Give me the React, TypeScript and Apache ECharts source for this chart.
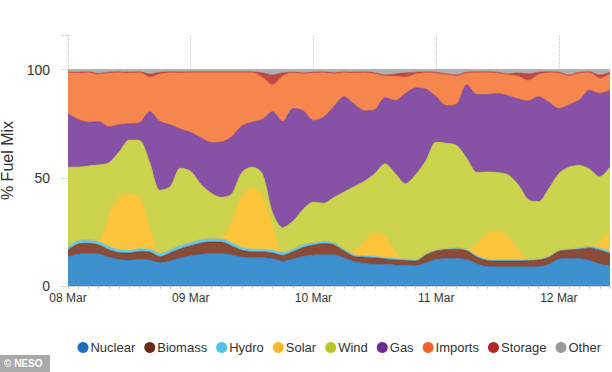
import React, { useEffect, useRef } from "react";
import * as echarts from "echarts";

// Hours since 08 Mar 00:00, sampled every 2 hours
const hours: number[] = Array.from({ length: 54 }, (_, i) => i * 2);
const dayLabels = ["08 Mar", "09 Mar", "10 Mar", "11 Mar", "12 Mar"];
const yTicks = [0, 50, 100];

const nuclear = [13.5, 14.8, 15.0, 14.8, 13.3, 12.3, 12.0, 12.4, 12.0, 10.8, 11.7, 13.0, 14.0, 14.7, 15.0, 15.0, 14.4, 13.4, 13.0, 13.0, 12.6, 11.5, 12.5, 13.8, 14.3, 14.4, 14.4, 13.0, 11.3, 10.5, 10.0, 9.9, 9.7, 9.6, 9.4, 10.8, 12.2, 12.7, 12.7, 12.2, 10.3, 9.0, 8.9, 8.9, 8.9, 8.9, 8.9, 10.0, 12.5, 12.7, 12.7, 11.8, 10.2, 9.4];
const biomass = [3.1, 4.6, 4.7, 4.2, 3.5, 3.1, 3.2, 3.6, 3.7, 2.7, 3.6, 4.2, 4.6, 5.1, 5.4, 5.3, 4.1, 3.1, 2.8, 2.8, 2.6, 2.7, 3.3, 4.0, 4.6, 5.2, 4.6, 3.2, 2.3, 2.8, 3.0, 2.6, 2.3, 2.2, 2.1, 3.5, 4.0, 4.1, 4.3, 4.1, 3.0, 2.8, 2.6, 2.6, 2.6, 2.8, 3.1, 3.2, 3.5, 3.9, 4.3, 5.8, 6.3, 5.6];
const hydro = [1.5, 1.7, 1.6, 1.5, 1.4, 1.3, 1.2, 1.2, 1.3, 1.5, 1.6, 1.6, 1.6, 1.7, 1.7, 1.6, 1.5, 1.3, 1.2, 1.2, 1.3, 1.4, 1.4, 1.3, 1.2, 1.1, 1.0, 0.9, 0.8, 0.7, 0.7, 0.7, 0.7, 0.7, 0.7, 0.6, 0.6, 0.6, 0.6, 0.6, 0.6, 0.6, 0.6, 0.6, 0.6, 0.6, 0.6, 0.6, 0.6, 0.6, 0.7, 0.8, 0.9, 1.0];
const solar = [0, 0, 0, 0.5, 15, 24.5, 26, 24, 10, 0, 0, 0, 0, 0, 0, 0, 10, 24, 28.5, 25, 11.5, 0, 0, 0, 0, 0, 0, 0, 2, 7, 11, 10, 3, 0, 0, 0, 0, 0, 0, 0, 5.5, 12, 13.5, 11, 5, 0, 0, 0, 0, 0, 0, 0, 3, 9.5];
const wind = [36.9, 33.9, 34.2, 35.0, 23.8, 20.8, 25.1, 26.1, 30.0, 29.3, 29.1, 35.7, 32.8, 25.5, 20.9, 19.1, 12.5, 10.7, 9.5, 10.0, 6.0, 11.4, 12.8, 16.4, 18.7, 17.6, 21.0, 26.4, 29.6, 27.5, 27.3, 33.3, 36.3, 34.8, 39.3, 43.1, 49.7, 48.6, 47.4, 42.1, 33.1, 28.3, 26.9, 28.4, 29.9, 27.7, 26.4, 31.2, 35.4, 37.8, 38.1, 35.6, 30.1, 29.5];
const gas = [24.6, 22.0, 20.2, 20.0, 16.5, 12.5, 7.5, 8.2, 23.5, 31.7, 28.5, 18.0, 18.0, 21.5, 23.3, 25.5, 26.5, 21.5, 20.7, 25.0, 46.5, 49.0, 52.0, 45.5, 37.7, 39.7, 42.0, 44.0, 38.0, 32.5, 29.5, 30.5, 33.7, 41.7, 40.0, 33.0, 21.0, 17.4, 19.0, 34.0, 36.0, 35.8, 36.5, 36.5, 39.5, 45.5, 48.5, 40.0, 30.0, 28.8, 30.2, 36.5, 38.5, 35.5];
const imports = [19.1, 21.5, 23.0, 21.9, 25.0, 24.2, 23.5, 23.2, 16.0, 22.0, 24.2, 26.1, 27.7, 30.2, 32.4, 32.2, 29.7, 24.7, 23.0, 19.5, 12.5, 21.0, 16.5, 17.2, 22.0, 20.7, 15.2, 11.2, 14.5, 17.7, 16.7, 10.2, 11.3, 7.5, 6.5, 7.7, 11.0, 14.3, 13.2, 5.5, 10.2, 10.2, 9.5, 9.7, 10.5, 9.5, 10.3, 13.7, 16.5, 13.4, 12.5, 8.2, 7.0, 7.5];
const storage = [0.3, 0.3, 0.3, 0.3, 0.3, 0.3, 0.3, 0.3, 1.5, 0.8, 0.3, 0.3, 0.3, 0.3, 0.3, 0.3, 0.3, 0.3, 0.3, 2.0, 4.5, 1.5, 0.3, 0.3, 0.3, 0.3, 0.3, 0.3, 0.3, 0.3, 0.3, 0.3, 1.0, 2.0, 0.8, 0.3, 0.3, 0.3, 0.3, 0.3, 0.3, 0.3, 0.3, 0.3, 1.5, 3.0, 1.0, 0.3, 0.3, 0.3, 0.3, 0.3, 1.5, 0.8];
const other = [1.0, 1.2, 1.0, 1.8, 1.2, 1.0, 1.2, 1.0, 2.0, 1.2, 1.0, 1.1, 1.0, 1.0, 1.0, 1.0, 1.0, 1.0, 1.0, 1.5, 2.5, 1.5, 1.2, 1.5, 1.2, 1.0, 1.5, 1.0, 1.2, 1.0, 1.5, 2.5, 2.0, 1.5, 1.2, 1.0, 1.2, 2.0, 2.5, 1.2, 1.0, 1.0, 1.2, 2.0, 1.5, 2.0, 1.2, 1.0, 1.2, 2.5, 1.2, 1.0, 2.5, 1.2];

const seriesNames = ["Nuclear", "Biomass", "Hydro", "Solar", "Wind", "Gas", "Imports", "Storage", "Other"];
const seriesData = [nuclear, biomass, hydro, solar, wind, gas, imports, storage, other];
const dotColors = ["#1c6fbe", "#6b2a14", "#4fc1ec", "#f8b62a", "#b9c62a", "#6a2c92", "#f0642a", "#b0282a", "#999999"];
const areaColors = ["#3d91cf", "#8b4b36", "#5ec8ee", "#fdc53b", "#cbd44c", "#8752a6", "#f5874e", "#c04a44", "#b0b0b0"];

const FONT = "'Liberation Sans', Arial, sans-serif";

export default function App() {
  const ref = useRef<HTMLDivElement>(null);
  useEffect(() => {
    if (!ref.current) return;
    const chart = echarts.init(ref.current, undefined, { renderer: "svg" });
    const isDay = (idx: number) => hours[idx] % 24 === 0;
    chart.setOption({
      animation: false,
      backgroundColor: "#ffffff",
      textStyle: { fontFamily: FONT },
      grid: { left: 68, right: 2, top: 35, bottom: 86, containLabel: false, outerBoundsMode: "none" },
      legend: {
        right: 6,
        top: 336,
        icon: "circle",
        itemWidth: 11,
        itemHeight: 11,
        itemGap: 9,
        data: seriesNames,
        textStyle: { fontSize: 13, color: "#333", fontFamily: FONT, padding: [0, 0, 0, -3] },
      },
      xAxis: {
        type: "category",
        boundaryGap: false,
        data: hours.map(String),
        axisLine: { show: true, lineStyle: { color: "#ccc", width: 1 } },
        axisTick: { show: true, interval: 0, length: 3, lineStyle: { color: "#ccc" } },
        splitLine: { show: true, interval: (idx: number) => isDay(idx), lineStyle: { type: "dotted", color: "#c8c8c8" } },
        axisLabel: {
          fontSize: 12,
          color: "#333",
          margin: 6,
          interval: (idx: number) => isDay(idx),
          formatter: (v: string) => {
            const h = Number(v);
            return h % 24 === 0 ? dayLabels[h / 24] ?? "" : "";
          },
        },
      },
      yAxis: {
        type: "value",
        min: 0,
        max: 116,
        interval: 50,
        name: "% Fuel Mix",
        nameLocation: "middle",
        nameGap: 44,
        nameTextStyle: { fontSize: 16, color: "#333", fontFamily: FONT },
        axisLine: { show: false },
        axisTick: { show: true, length: 8, lineStyle: { type: "dotted", color: "#bbb" } },
        splitLine: { show: false },
        axisLabel: {
          fontSize: 14,
          color: "#333",
          margin: 18,
          formatter: (v: number) => (yTicks.includes(v) ? String(v) : ""),
        },
      },
      series: seriesNames.map((name, i) => ({
        name,
        type: "line",
        stack: "total",
        symbol: "none",
        smooth: 0.3,
        data: seriesData[i],
        itemStyle: { color: dotColors[i] },
        lineStyle: { color: dotColors[i], width: 0.6 },
        areaStyle: { color: areaColors[i], opacity: 1 },
        emphasis: { disabled: true },
      })),
      graphic: [
        { type: "rect", left: 0, top: 355, shape: { x: 0, y: 0, width: 50, height: 17 }, style: { fill: "#a9a9a9" } },
        {
          type: "text",
          left: 4,
          top: 358,
          style: { text: "© NESO", fill: "#ffffff", font: `bold 10px ${FONT}` },
        },
      ],
    });
    return () => chart.dispose();
  }, []);
  return <div ref={ref} style={{ width: 612, height: 372, position: "fixed", left: 0, top: 0 }} />;
}
